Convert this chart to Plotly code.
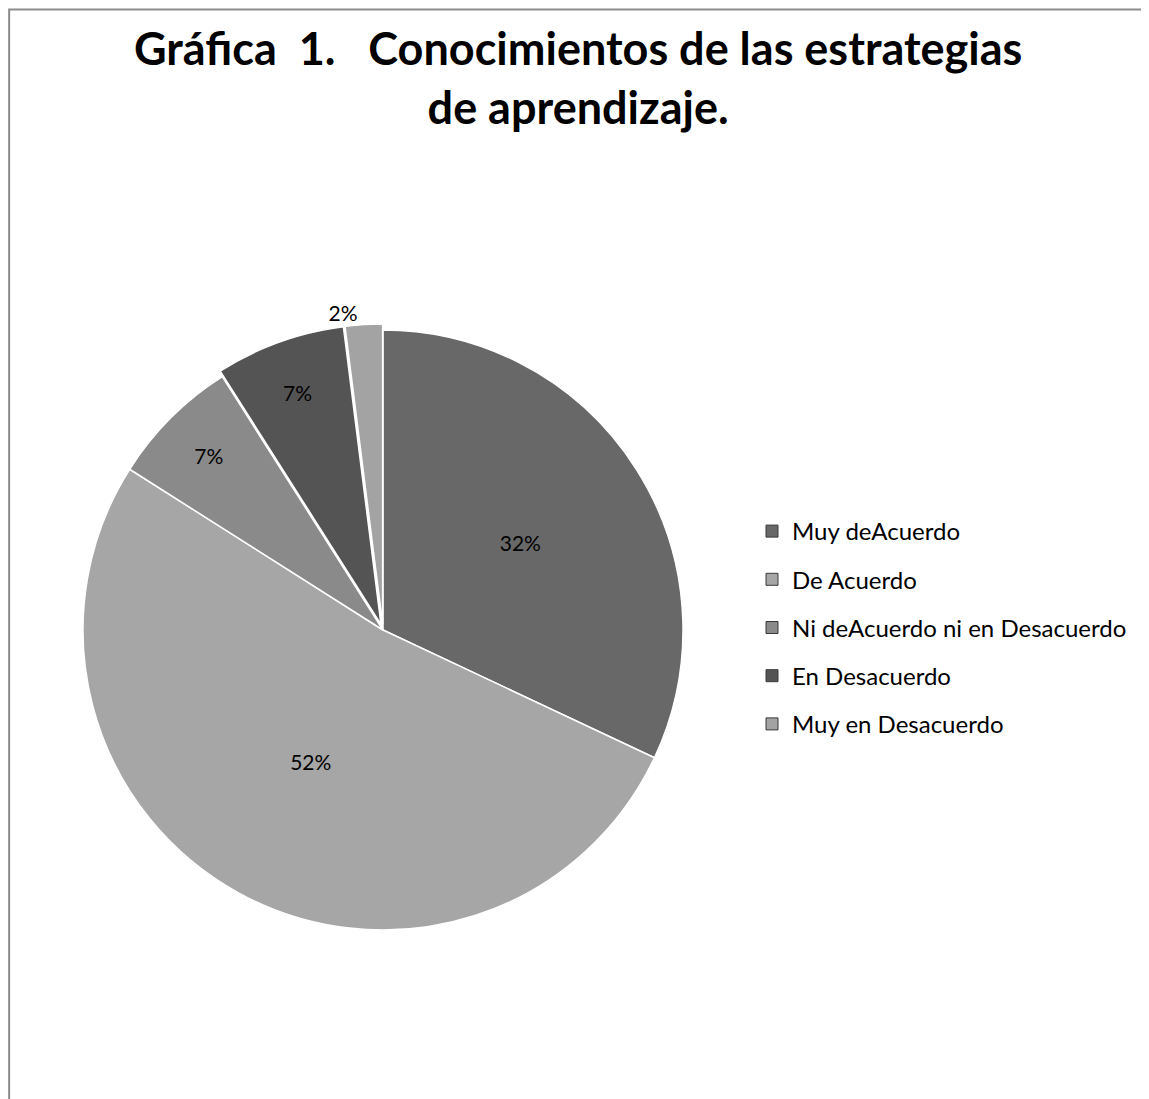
import plotly.graph_objects as go

categories = ["Muy deAcuerdo", "De Acuerdo", "Ni deAcuerdo ni en Desacuerdo", "En Desacuerdo", "Muy en Desacuerdo"]
values = [32, 52, 7, 7, 2]
colors = ["#686868", "#a6a6a6", "#8a8a8a", "#545454", "#a3a3a3"]
title_text = "Gráfica\u00a0 1.\u00a0\u00a0 Conocimientos de las estrategias<br>de aprendizaje."

W, H = 1149, 1099
# page has an 8px body offset; these are figure coordinates
cx, cy, r = 375, 622, 306
FONT = "Lato, Open Sans, sans-serif"

fig = go.Figure()
fig.add_trace(go.Pie(
    labels=categories,
    values=values,
    sort=False,
    direction="clockwise",
    rotation=0,
    marker=dict(colors=colors, line=dict(color="#ffffff", width=1.5)),
    pull=[0, 0, 0, 0.02, 0.02],
    texttemplate="%{percent:.0%}",
    textposition=["inside", "inside", "inside", "inside", "outside"],
    insidetextorientation="horizontal",
    textfont=dict(family=FONT, size=21, color="#000000"),
    domain=dict(x=[(cx - r) / W, (cx + r) / W], y=[1 - (cy + r) / H, 1 - (cy - r) / H]),
    hoverinfo="label+percent",
    showlegend=False,
))

# legend entries (one per category) so that item spacing can match the reference
for i, (name, col) in enumerate(zip(categories, colors)):
    fig.add_trace(go.Scatter(
        x=[None], y=[None], mode="markers", name=name, legendgroup=f"g{i}",
        marker=dict(symbol="square", size=12, color=col, line=dict(color="#3a3a3a", width=1)),
        hoverinfo="skip",
    ))

fig.update_layout(
    width=W, height=H,
    margin=dict(l=0, r=0, t=0, b=0),
    paper_bgcolor="#ffffff",
    plot_bgcolor="rgba(0,0,0,0)",
    xaxis=dict(visible=False),
    yaxis=dict(visible=False),
    showlegend=True,
    legend=dict(x=744 / W, y=1 - 501 / H, xanchor="left", yanchor="top",
                font=dict(family=FONT, size=24, color="#000000"),
                bgcolor="rgba(0,0,0,0)", tracegroupgap=14, itemwidth=30),
    annotations=[dict(text=title_text, xref="paper", yref="paper", x=570 / W, y=1 - 69 / H,
                      xanchor="center", yanchor="middle", showarrow=False, align="center",
                      font=dict(family=FONT, size=45, color="#000000", weight="bold"))],
    shapes=[dict(type="path", xref="paper", yref="paper",
                 path=f"M 0.001 -0.01 L 0.001 {1 - 1.5 / H} L 1.01 {1 - 1.5 / H}",
                 line=dict(color="#8c8c8c", width=2), layer="below")],
)

fig.write_html("out.html")
